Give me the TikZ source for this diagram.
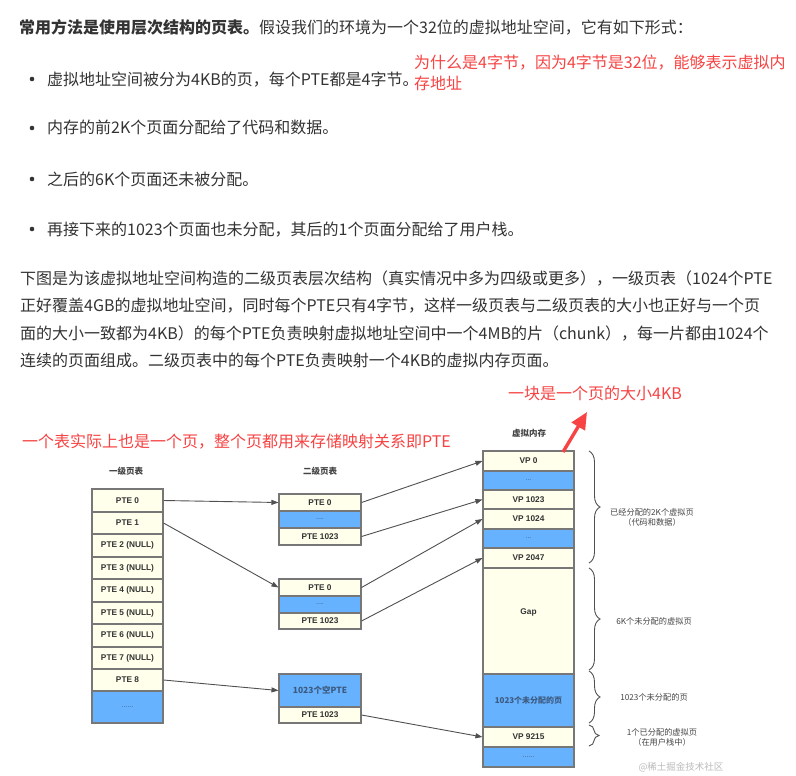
\documentclass[tikz,border=0pt]{standalone}
\usepackage{fontspec}
\setmainfont{Noto Sans CJK SC}
\newfontfamily\arial{Liberation Sans}
\usetikzlibrary{decorations.pathreplacing,arrows.meta}
\definecolor{txt}{HTML}{333333}
\definecolor{redn}{HTML}{F74343}
\definecolor{cream}{HTML}{FFFFEC}
\definecolor{bluec}{HTML}{66B2FF}
\definecolor{bord}{HTML}{777777}
\definecolor{arr}{HTML}{505050}
\definecolor{lbl}{HTML}{444444}
\definecolor{dots}{HTML}{3C5A80}
\definecolor{wm}{HTML}{BBBBBB}
\begin{document}
\begin{tikzpicture}[x=1pt,y=-1pt,
  body/.style={anchor=base west, inner sep=0, text=txt, font=\fontsize{16}{20}\selectfont},
  note/.style={anchor=base west, inner sep=0, text=redn, font=\fontsize{16}{20}\selectfont},
  cell/.style={draw=bord, line width=1.1pt, fill=cream, inner sep=0, text=txt, font=\arial\bfseries\fontsize{8.3}{9}\selectfont},
  bcell/.style={cell, fill=bluec},
  dotcell/.style={bcell, font=\arial\fontsize{7}{8}\selectfont, text=dots},
  w1/.style={minimum width=71pt},
  w2/.style={minimum width=82pt},
  w3/.style={minimum width=91pt},
  conn/.style={draw=arr, line width=0.9pt, -{Triangle[length=7pt,width=5pt]}},
  dlabel/.style={inner sep=0, text=lbl, font=\bfseries\fontsize{8.5}{10}\selectfont},
  blabel/.style={inner sep=0, text=lbl, align=center, font=\fontsize{8.2}{10}\selectfont},
  bracedec/.style={decorate, decoration={brace, amplitude=11pt}, draw=arr, line width=0.9pt},
]
\useasboundingbox[fill=white] (0,0) rectangle (796,776);

% ---- text ----
\node[body] (t1) at (19,34) {\textbf{常用方法是使用层次结构的页表。}假设我们的环境为一个32位的虚拟地址空间，它有如下形式：};
\fill[txt] (32,79) circle (2.3pt);
\node[body] (b1) at (47,85) {虚拟地址空间被分为4KB的页，每个PTE都是4字节。};
\node[note] (n1) at (414,69) {为什么是4字节，因为4字节是32位，能够表示虚拟内};
\node[note] (n2) at (414,90) {存地址};
\fill[txt] (32,128) circle (2.3pt);
\node[body] (b2) at (47,134) {内存的前2K个页面分配给了代码和数据。};
\fill[txt] (32,179) circle (2.3pt);
\node[body] (b3) at (47,185) {之后的6K个页面还未被分配。};
\fill[txt] (32,229) circle (2.3pt);
\node[body] (b4) at (47,235) {再接下来的1023个页面也未分配，其后的1个页面分配给了用户栈。};
\node[body] (p1) at (20,284) {下图是为该虚拟地址空间构造的二级页表层次结构（真实情况中多为四级或更多），一级页表（1024个PTE};
\node[body] (p2) at (20,311) {正好覆盖4GB的虚拟地址空间，同时每个PTE只有4字节，这样一级页表与二级页表的大小也正好与一个页};
\node[body] (p3) at (20,339) {面的大小一致都为4KB）的每个PTE负责映射虚拟地址空间中一个4MB的片（chunk），每一片都由1024个};
\node[body] (p4) at (20,366) {连续的页面组成。二级页表中的每个PTE负责映射一个4KB的虚拟内存页面。};

\node[note] (n3) at (22,447) {一个表实际上也是一个页，整个页都用来存储映射关系即PTE};
\node[note] (n4) at (508,399) {一块是一个页的大小4KB};

% ---- diagram labels ----
\node[dlabel] (h1) at (126,471) {一级页表};
\node[dlabel] (h2) at (320,471) {二级页表};
\node[dlabel] (h3) at (529,433) {虚拟内存};

% ---- level 1 ----
\node[cell,w1,minimum height=23pt] (l0) at (127.5,500.5) {PTE 0};
\node[cell,w1,minimum height=22pt] (l1) at (127.5,523) {PTE 1};
\node[cell,w1,minimum height=23pt] (l2) at (127.5,545.5) {PTE 2 (NULL)};
\node[cell,w1,minimum height=22pt] (l3) at (127.5,568) {PTE 3 (NULL)};
\node[cell,w1,minimum height=23pt] (l4) at (127.5,590.5) {PTE 4 (NULL)};
\node[cell,w1,minimum height=22pt] (l5) at (127.5,613) {PTE 5 (NULL)};
\node[cell,w1,minimum height=23pt] (l6) at (127.5,635.5) {PTE 6 (NULL)};
\node[cell,w1,minimum height=22pt] (l7) at (127.5,658) {PTE 7 (NULL)};
\node[cell,w1,minimum height=22pt] (l8) at (127.5,680) {PTE 8};
\node[dotcell,w1,minimum height=32pt] (l9) at (127.5,707) {......};

% ---- level 2 ----
\node[cell,w2,minimum height=17pt] (a0) at (320,502.5) {PTE 0};
\node[dotcell,w2,minimum height=17pt] (a1) at (320,519.5) {....};
\node[cell,w2,minimum height=17pt] (a2) at (320,536.5) {PTE 1023};

\node[cell,w2,minimum height=17pt] (b0) at (320,587.5) {PTE 0};
\node[dotcell,w2,minimum height=17pt] (b1) at (320,604.5) {....};
\node[cell,w2,minimum height=16pt] (b2) at (320,621) {PTE 1023};

\node[bcell,w2,minimum height=33pt,font=\bfseries\fontsize{8.5}{10}\selectfont,text=dots] (c0) at (320,690.5) {1023个空PTE};
\node[cell,w2,minimum height=16pt] (c1) at (320,715) {PTE 1023};

% ---- virtual memory ----
\node[cell,w3,minimum height=20pt] (v0) at (528.5,461) {VP 0};
\node[dotcell,w3,minimum height=19pt] (v1) at (528.5,480.5) {...};
\node[cell,w3,minimum height=19pt] (v2) at (528.5,499.5) {VP 1023};
\node[cell,w3,minimum height=20pt] (v3) at (528.5,519) {VP 1024};
\node[dotcell,w3,minimum height=19pt] (v4) at (528.5,538.5) {...};
\node[cell,w3,minimum height=20pt] (v5) at (528.5,558) {VP 2047};
\node[cell,w3,minimum height=106pt] (v6) at (528.5,621) {};
\node[inner sep=0,text=txt,font=\arial\bfseries\fontsize{8.3}{9}\selectfont] (gap) at (528.5,612) {Gap};
\node[bcell,w3,minimum height=53pt,font=\bfseries\fontsize{8}{10}\selectfont,text=dots] (v7) at (528.5,700.5) {1023个未分配的页};
\node[cell,w3,minimum height=20pt] (v8) at (528.5,737) {VP 9215};
\node[dotcell,w3,minimum height=20pt] (v9) at (528.5,757) {......};

% ---- connectors ----
\draw[conn] (l0.east) -- (a0.west);
\draw[conn] (l1.east) -- (b0.west);
\draw[conn] (l8.east) -- (c0.west);
\draw[conn] (a0.east) -- (v0.west);
\draw[conn] (a2.east) -- (v2.west);
\draw[conn] (b0.east) -- (v3.west);
\draw[conn] (b2.east) -- (v5.west);
\draw[conn] (c1.east) -- (v8.west);

% ---- braces ----
\draw[bracedec] (589,451) -- (589,563);
\draw[bracedec] (589,568) -- (589,670);
\draw[bracedec] (589,671) -- (589,723);
\draw[bracedec, decoration={brace, amplitude=10pt}] (589,725) -- (589,746);

\node[blabel] (r1) at (652,517) {已经分配的2K个虚拟页\\（代码和数据）};
\node[blabel] (r2) at (654,621) {6K个未分配的虚拟页};
\node[blabel] (r3) at (654,697) {1023个未分配的页};
\node[blabel] (r4) at (662,737) {1个已分配的虚拟页\\（在用户栈中）};

% ---- red arrow ----
\coordinate (ra) at (563,452);
\coordinate (rb) at (587,412);
\draw[redn, line width=3.4pt, -{Triangle[length=17pt,width=15pt]}] (ra) -- (rb);

% ---- watermark ----
\node[inner sep=0, text=wm, font=\fontsize{9.5}{11}\selectfont] (wmk) at (681,767) {@稀土掘金技术社区};
\end{tikzpicture}
\end{document}
